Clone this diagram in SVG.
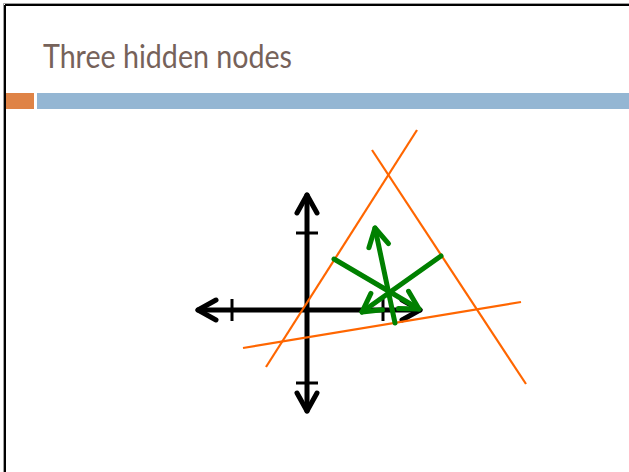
<svg xmlns="http://www.w3.org/2000/svg" width="629" height="472" viewBox="0 0 629 472">
  <defs>
    <style>
      .axis { stroke: #000; stroke-width: 5; stroke-linecap: round; fill: none; }
      .tick { stroke: #000; stroke-width: 3; fill: none; }
      .boundary { stroke: #ff6600; stroke-width: 2.2; fill: none; }
      .normal { stroke: #008000; stroke-width: 5; stroke-linecap: round; fill: none; }
      .title { font-family: Lato, "Liberation Sans", sans-serif; font-size: 32px; fill: #76625a; }
    </style>
    <marker id="headBlack" markerUnits="userSpaceOnUse" viewBox="-25 -15 30 30" refX="0" refY="0" markerWidth="30" markerHeight="30" orient="auto-start-reverse">
      <path d="M-18,-10 L0,0 L-18,10" fill="none" stroke="#000" stroke-width="5" stroke-linecap="round" stroke-linejoin="round"/>
    </marker>
    <marker id="headGreen" markerUnits="userSpaceOnUse" viewBox="-25 -15 30 30" refX="0" refY="0" markerWidth="30" markerHeight="30" orient="auto">
      <path d="M-18,-10 L0,0 L-18,10" fill="none" stroke="#008000" stroke-width="5" stroke-linecap="round" stroke-linejoin="round"/>
    </marker>
  </defs>
  <rect x="0" y="0" width="629" height="472" fill="#fff"/>
  <g id="frame">
    <line x1="3.5" y1="3.5" x2="629" y2="3.5" stroke="#a0a0a0" stroke-width="1"/>
    <line x1="3.5" y1="3.5" x2="3.5" y2="472" stroke="#a0a0a0" stroke-width="1"/>
    <line x1="5" y1="5" x2="629" y2="5" stroke="#000" stroke-width="2"/>
    <line x1="5" y1="5" x2="5" y2="472" stroke="#000" stroke-width="2"/>
  </g>
  <g id="title">
    <text class="title" x="43" y="68" textLength="249" lengthAdjust="spacingAndGlyphs">Three hidden nodes</text>
  </g>
  <g id="header-bars">
    <rect x="6" y="93" width="28" height="16" fill="#df8346"/>
    <rect x="37" y="93" width="592" height="16" fill="#94b6d3"/>
  </g>
  <g id="axes">
    <line class="axis" x1="198" y1="310" x2="420" y2="310" marker-start="url(#headBlack)" marker-end="url(#headBlack)"/>
    <line class="axis" x1="307" y1="195" x2="307" y2="411" marker-start="url(#headBlack)" marker-end="url(#headBlack)"/>
    <line class="tick" x1="296" y1="233" x2="318" y2="233"/>
    <line class="tick" x1="296" y1="383" x2="318" y2="383"/>
    <line class="tick" x1="232" y1="299" x2="232" y2="321"/>
    <line class="tick" x1="383" y1="299" x2="383" y2="321"/>
  </g>
  <g id="boundaries">
    <line class="boundary" x1="417" y1="130" x2="266" y2="367"/>
    <line class="boundary" x1="372" y1="150" x2="526" y2="384"/>
    <line class="boundary" x1="243" y1="348" x2="521" y2="302"/>
  </g>
  <g id="normals">
    <line class="normal" x1="334" y1="259" x2="419" y2="309" marker-end="url(#headGreen)"/>
    <line class="normal" x1="441" y1="256" x2="362" y2="312" marker-end="url(#headGreen)"/>
    <line class="normal" x1="395" y1="323" x2="375" y2="228" marker-end="url(#headGreen)"/>
  </g>
</svg>
